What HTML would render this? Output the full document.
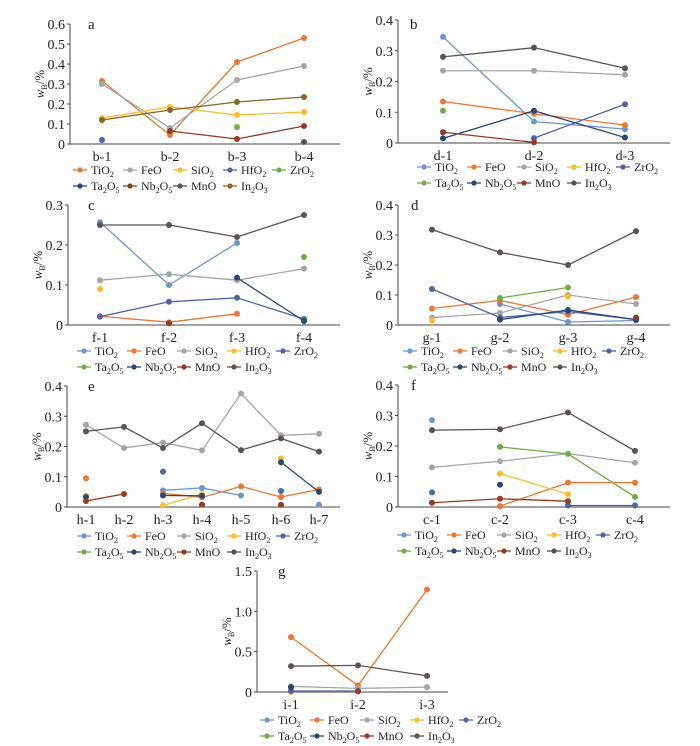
<!DOCTYPE html>
<html><head><meta charset="utf-8">
<style>
html,body{margin:0;padding:0;background:#fff;}
#wrap{position:relative;width:700px;height:746px;overflow:hidden;}
svg text{font-family:"Liberation Serif",serif;fill:#222;}
</style></head>
<body>
<div id="wrap">
<svg id="fig" width="700" height="746" xmlns="http://www.w3.org/2000/svg"></svg>
</div>
<script>
// series names
const seriesNames = ["TiO2","FeO","SiO2","HfO2","ZrO2","Ta2O5","Nb2O5","MnO","In2O3"];
const colorsA = ["#ee7631","#a5a5a5","#fdbe25","#4e65ab","#6fae45","#25477a","#943c22","#5a5352","#8b6622"];
const colorsB = ["#6b97d1","#ee7631","#a5a5a5","#fdbe25","#4e65ab","#6fae45","#25477a","#943c22","#5a5352"];
const legendOrderA = ["TiO2","FeO","SiO2","HfO2","ZrO2","Ta2O5","Nb2O5","MnO","In2O3"];

// panel a
const catsA = ["b-1","b-2","b-3","b-4"];
const ticksA = [0,0.1,0.2,0.3,0.4,0.5,0.6];
const tickLabelsA = ["0","0.1","0.2","0.3","0.4","0.5","0.6"];
const aTiO2=[0.315,0.045,0.41,0.53], aFeO=[0.30,0.08,0.32,0.39], aSiO2=[0.13,0.185,0.145,0.16],
 aHfO2=[0.02,null,null,null], aZrO2=[null,null,0.085,null], aTa2O5=[null,null,null,null],
 aNb2O5=[null,0.065,0.025,0.09], aMnO=[null,null,null,0.01], aIn2O3=[0.12,0.17,0.21,0.235];
// panel b
const catsB = ["d-1","d-2","d-3"];
const ticksB = [0,0.1,0.2,0.3,0.4];
const tickLabelsB = ["0","0.1","0.2","0.3","0.4"];
const bTiO2=[0.345,0.07,0.045], bFeO=[0.135,0.095,0.058], bSiO2=[0.235,0.235,0.222],
 bHfO2=[null,null,null], bZrO2=[null,0.016,0.126], bTa2O5=[0.105,null,null],
 bNb2O5=[0.015,0.105,0.018], bMnO=[0.035,0.002,null], bIn2O3=[0.28,0.31,0.243];
// panel c
const catsC = ["f-1","f-2","f-3","f-4"];
const ticksC = [0,0.1,0.2,0.3];
const tickLabelsC = ["0","0.1","0.2","0.3"];
const cTiO2=[0.257,0.10,0.205,null], cFeO=[0.022,0.007,0.028,null], cSiO2=[0.112,0.127,0.112,0.141],
 cHfO2=[0.09,null,null,null], cZrO2=[0.021,0.058,0.068,0.015], cTa2O5=[null,null,null,0.17],
 cNb2O5=[null,null,0.118,0.01], cMnO=[null,0.004,null,null], cIn2O3=[0.25,0.25,0.22,0.275];
// panel d
const catsD = ["g-1","g-2","g-3","g-4"];
const ticksD = [0,0.1,0.2,0.3,0.4];
const tickLabelsD = ["0","0.1","0.2","0.3","0.4"];
const dTiO2=[null,0.07,0.01,0.015], dFeO=[0.055,0.082,0.034,0.093], dSiO2=[0.025,0.04,0.1,0.07],
 dHfO2=[0.015,null,0.095,null], dZrO2=[0.12,0.025,0.045,0.018], dTa2O5=[null,0.09,0.125,null],
 dNb2O5=[null,0.018,0.05,0.018], dMnO=[null,null,null,0.025], dIn2O3=[0.318,0.242,0.2,0.313];
// panel e
const catsE = ["h-1","h-2","h-3","h-4","h-5","h-6","h-7"];
const ticksE = [0,0.1,0.2,0.3,0.4];
const tickLabelsE = ["0","0.1","0.2","0.3","0.4"];
const eTiO2=[null,null,0.055,0.063,0.038,null,0.008], eFeO=[0.095,null,0.045,0.032,0.068,0.033,0.058],
 eSiO2=[0.272,0.195,0.213,0.187,0.375,0.237,0.242], eHfO2=[0.037,null,0.005,0.043,null,0.16,null],
 eZrO2=[null,null,0.117,null,null,0.053,null], eTa2O5=[null,null,null,null,null,null,null],
 eNb2O5=[0.033,null,0.038,0.037,null,0.148,0.05], eMnO=[0.02,0.043,null,0.008,null,0.007,null],
 eIn2O3=[0.25,0.265,0.195,0.277,0.188,0.227,0.183];
// panel f
const catsF = ["c-1","c-2","c-3","c-4"];
const ticksF = [0,0.1,0.2,0.3,0.4];
const tickLabelsF = ["0","0.1","0.2","0.3","0.4"];
const fTiO2=[0.285,null,null,null], fFeO=[null,0.003,0.08,0.08], fSiO2=[0.13,0.15,0.175,0.145],
 fHfO2=[null,0.11,0.042,null], fZrO2=[0.048,null,0.005,0.005], fTa2O5=[null,0.197,0.174,0.033],
 fNb2O5=[null,0.073,null,null], fMnO=[0.014,0.027,0.019,null], fIn2O3=[0.252,0.255,0.31,0.184];
// panel g
const catsG = ["i-1","i-2","i-3"];
const ticksG = [0,0.5,1.0,1.5];
const tickLabelsG = ["0","0.5","1.0","1.5"];
const gTiO2=[0.01,0.01,null], gFeO=[0.68,0.08,1.27], gSiO2=[0.07,0.045,0.06],
 gHfO2=[0.0,null,null], gZrO2=[0.012,0.012,null], gTa2O5=[null,null,null],
 gNb2O5=[0.06,null,null], gMnO=[null,0.01,null], gIn2O3=[0.32,0.33,0.2];

const NS="http://www.w3.org/2000/svg";
const svg=document.getElementById('fig');
function mk(tag,attrs,parent){const e=document.createElementNS(NS,tag);for(const k in attrs)e.setAttribute(k,attrs[k]);(parent||svg).appendChild(e);return e;}

const panels=[
 {id:"a",cats:catsA,ticks:ticksA,tl:tickLabelsA,max:0.6,series:[aTiO2,aFeO,aSiO2,aHfO2,aZrO2,aTa2O5,aNb2O5,aMnO,aIn2O3],colors:colorsA,
  ax:70,top:24,bot:144,xend:340,cx:[102,170,237,304],leg:73,ly:170,lab:[88,29]},
 {id:"b",cats:catsB,ticks:ticksB,tl:tickLabelsB,max:0.4,series:[bTiO2,bFeO,bSiO2,bHfO2,bZrO2,bTa2O5,bNb2O5,bMnO,bIn2O3],colors:colorsB,
  ax:398,top:20,bot:143,xend:670,cx:[443,534,625],leg:417,ly:167,lab:[410,29]},
 {id:"c",cats:catsC,ticks:ticksC,tl:tickLabelsC,max:0.3,series:[cTiO2,cFeO,cSiO2,cHfO2,cZrO2,cTa2O5,cNb2O5,cMnO,cIn2O3],colors:colorsB,
  ax:68,top:205,bot:325,xend:340,cx:[100,169,237,304],leg:77,ly:351,lab:[88,210]},
 {id:"d",cats:catsD,ticks:ticksD,tl:tickLabelsD,max:0.4,series:[dTiO2,dFeO,dSiO2,dHfO2,dZrO2,dTa2O5,dNb2O5,dMnO,dIn2O3],colors:colorsB,
  ax:398,top:205,bot:325,xend:670,cx:[432,500,568,636],leg:403,ly:351,lab:[411,210]},
 {id:"e",cats:catsE,ticks:ticksE,tl:tickLabelsE,max:0.4,series:[eTiO2,eFeO,eSiO2,eHfO2,eZrO2,eTa2O5,eNb2O5,eMnO,eIn2O3],colors:colorsB,
  ax:67,top:386,bot:507,xend:340,cx:[86,124,163,202,241,281,319],leg:77,ly:536,lab:[88,391]},
 {id:"f",cats:catsF,ticks:ticksF,tl:tickLabelsF,max:0.4,series:[fTiO2,fFeO,fSiO2,fHfO2,fZrO2,fTa2O5,fNb2O5,fMnO,fIn2O3],colors:colorsB,
  ax:398,top:385,bot:507,xend:670,cx:[432,500,568,635],leg:397,ly:535,lab:[411,390]},
 {id:"g",cats:catsG,ticks:ticksG,tl:tickLabelsG,max:1.5,series:[gTiO2,gFeO,gSiO2,gHfO2,gZrO2,gTa2O5,gNb2O5,gMnO,gIn2O3],colors:colorsB,
  ax:257,top:571,bot:692,xend:448,cx:[291,358,427],leg:260,ly:720,lab:[278,576]}
];

function legendText(g,x,y,name){
  const t=mk('text',{x:x,y:y+4,'font-size':'12'},g);
  const m=name.match(/^([A-Za-z]+?)(\d)?([A-Za-z]*)(\d)?$/);
  const parts=[];let s=name;
  // split into letters and digits
  const re=/(\d+)|([^\d]+)/g;let r;
  while((r=re.exec(name))){
    const ts=mk('tspan',{},t);
    if(r[1]){ts.setAttribute('font-size','8');ts.setAttribute('dy','3');ts.textContent=r[1];}
    else{ if(parts.length){ts.setAttribute('dy','-3');} ts.textContent=r[2];}
    parts.push(r[0]);
  }
}

panels.forEach(p=>{
  const g=mk('g',{});
  
  
  const y=v=>p.bot-(v/p.max)*(p.bot-p.top);
  const x=i=>p.cx[i];
  // axes
  const ya=mk('line',{x1:p.ax,y1:p.top,x2:p.ax,y2:p.bot,stroke:'#444','stroke-width':1},g);
  
  
  const xa=mk('line',{x1:p.ax,y1:p.bot,x2:p.xend,y2:p.bot,stroke:'#444','stroke-width':1},g);
  
  
  p.ticks.forEach((t,i)=>{
    mk('line',{x1:p.ax-3,y1:y(t),x2:p.ax,y2:y(t),stroke:'#444'},g);
    const tx=mk('text',{x:p.ax-5,y:y(t)+5,'font-size':'14','text-anchor':'end'},g);
    
    
    tx.textContent=p.tl[i];
  });
  p.cats.forEach((c,i)=>{
    const tx=mk('text',{x:x(i),y:p.bot+17,'font-size':'14','text-anchor':'middle'},g);
    
    
    tx.textContent=c;
  });
  // y title
  const cy=(p.top+p.bot)/2;
  const yt=mk('text',{x:0,y:0,'font-size':'13','text-anchor':'middle',transform:`translate(${p.ax-26},${cy}) rotate(-90)`},g);
  
  
  const t1=mk('tspan',{'font-style':'italic'},yt);t1.textContent='w';
  const t2=mk('tspan',{'font-size':'8',dy:'3'},yt);t2.textContent='B';
  const t3=mk('tspan',{dy:'-3'},yt);t3.textContent='/%';
  // panel letter
  const lab=mk('text',{x:p.lab[0],y:p.lab[1],'font-size':'15'},g);
  
  
  lab.textContent=p.id;
  // series
  p.series.forEach((vals,si)=>{
    const col=p.colors[si];
    const sg=mk('g',{},g);
    
    
    for(let i=0;i<vals.length-1;i++){
      if(vals[i]!=null&&vals[i+1]!=null){
        mk('line',{x1:x(i),y1:y(vals[i]),x2:x(i+1),y2:y(vals[i+1]),stroke:col,'stroke-width':1.3},sg);
      }
    }
    vals.forEach((v,i)=>{
      if(v==null)return;
      const c=mk('circle',{cx:x(i),cy:y(v),r:3,fill:col},sg);
      
      
    });
  });
  // legend
  const lg=mk('g',{},g);
  
  
  const offs=[0,50,100,150,199];
  seriesNames.forEach((n,si)=>{
    const row=si<5?0:1;const col=si<5?si:si-5;
    const lx=p.leg+offs[col];const ly=p.ly+row*16;
    const eg=mk('g',{},lg);
    
    
    mk('line',{x1:lx,y1:ly,x2:lx+14,y2:ly,stroke:p.colors[si],'stroke-width':1.3},eg);
    mk('circle',{cx:lx+7,cy:ly,r:2.6,fill:p.colors[si]},eg);
    legendText(eg,lx+18,ly,n);
  });
});
</script>
</body></html>
